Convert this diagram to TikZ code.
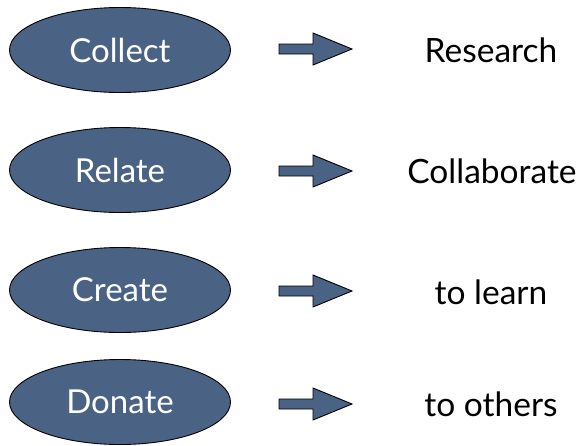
\documentclass[tikz,border=0pt]{standalone}
\usepackage{fontspec}
\setmainfont{Lato}
\usetikzlibrary{shapes.geometric}
\definecolor{ovalblue}{RGB}{74,99,133}
\tikzset{
  oval/.style={ellipse, draw=black, line width=0.9pt, fill=ovalblue, minimum width=221pt, minimum height=85pt, inner sep=0pt, text=white, font=\fontsize{33}{36}\selectfont},
  word/.style={text=black, font=\fontsize{33.5}{36}\selectfont, inner sep=0pt},
  blockarrow/.style={draw=black, line width=0.9pt, fill=ovalblue, line join=miter}
}
\newcommand{\blockarr}[2]{% #1 = x start, #2 = y centre
  \path[blockarrow] (#1,#2-5) -- ++(34,0) -- ++(0,-11) -- ++(39,16) -- ++(-39,16) -- ++(0,-11) -- ++(-34,0) -- cycle;}
\begin{document}
\begin{tikzpicture}[x=1pt,y=-1pt]
\useasboundingbox (0,0) rectangle (584,445);
\node[oval] (collect) at (120,50) {Collect};
\node[oval] (relate) at (120,170) {Relate};
\node[oval] (create) at (120,290) {Create};
\node[oval] (donate) at (120,402) {Donate};
\blockarr{279}{49}
\blockarr{279}{171}
\blockarr{279}{291}
\blockarr{279}{404}
\node[word] (research) at (491,50) {Research};
\node[word] (collab) at (492,171) {Collaborate};
\node[word] (learn) at (491,292) {to learn};
\node[word] (others) at (491,404) {to others};
\end{tikzpicture}
\end{document}
